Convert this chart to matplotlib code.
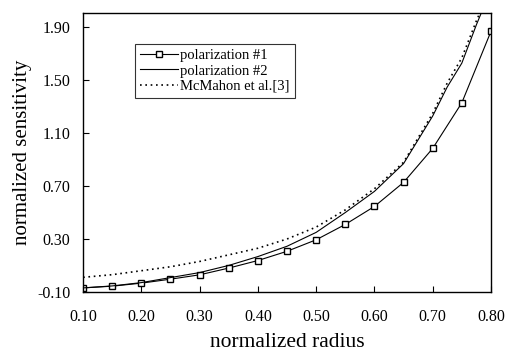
"""
Normalized sensitivity vs normalized radius
"""
import matplotlib
matplotlib.use("Agg")
import matplotlib.pyplot as plt

# polarization #1 (square markers)
r_pol1 = [0.10, 0.15, 0.20, 0.25, 0.30, 0.35, 0.40, 0.45, 0.50,
          0.55, 0.60, 0.65, 0.70, 0.75, 0.80]
s_pol1 = [-0.070, -0.057, -0.034, -0.004, 0.029, 0.080, 0.137, 0.207, 0.294,
          0.410, 0.546, 0.728, 0.985, 1.330, 1.870]

# polarization #2 (solid line)
r_pol2 = [0.10, 0.15, 0.20, 0.25, 0.30, 0.35, 0.40, 0.45, 0.50,
          0.55, 0.60, 0.65, 0.70, 0.725, 0.75, 0.775, 0.79]
s_pol2 = [-0.070, -0.055, -0.030, 0.008, 0.046, 0.100, 0.167, 0.245, 0.350,
          0.500, 0.660, 0.870, 1.230, 1.450, 1.630, 1.920, 2.080]

# McMahon et al. [3] (dotted)
r_mcm = [0.10, 0.15, 0.20, 0.25, 0.30, 0.35, 0.40, 0.45, 0.50,
         0.55, 0.60, 0.65, 0.70, 0.725, 0.75, 0.775, 0.79]
s_mcm = [0.010, 0.030, 0.060, 0.090, 0.130, 0.180, 0.230, 0.300, 0.390,
         0.520, 0.680, 0.880, 1.250, 1.480, 1.670, 1.950, 2.100]

x_ticks = [0.10, 0.20, 0.30, 0.40, 0.50, 0.60, 0.70, 0.80]
y_ticks = [-0.10, 0.30, 0.70, 1.10, 1.50, 1.90]

plt.rcParams["font.family"] = ["Liberation Serif", "DejaVu Serif"]

fig = plt.figure(figsize=(5.13, 3.59), dpi=100)
ax = fig.add_axes([0.162, 0.187, 0.795, 0.777])

ax.plot(r_pol1, s_pol1, color="black", linewidth=0.8, marker="s",
        markersize=4.5, markerfacecolor="white", markeredgewidth=1.0,
        label="polarization #1")
ax.plot(r_pol2, s_pol2, color="black", linewidth=0.8, label="polarization #2")
ax.plot(r_mcm, s_mcm, color="black", linewidth=1.2, linestyle=(0, (1, 2.2)),
        label="McMahon et al.[3]")

ax.set_xlim(0.10, 0.80)
ax.set_ylim(-0.10, 2.01)
ax.set_xticks(x_ticks)
ax.set_yticks(y_ticks)
ax.set_xticklabels([f"{v:.2f}" for v in x_ticks])
ax.set_yticklabels([f"{v:.2f}" for v in y_ticks])
ax.tick_params(direction="in", length=4, width=0.8, labelsize=11.5)
ax.tick_params(axis="x", pad=12)
ax.tick_params(axis="y", pad=9)
for sp in ax.spines.values():
    sp.set_linewidth(1.0)

ax.set_xlabel("normalized radius", fontsize=15.5, labelpad=6)
ax.set_ylabel("normalized sensitivity", fontsize=15, labelpad=4)

leg = ax.legend(loc="upper left", bbox_to_anchor=(0.1275, 0.889),
                fontsize=10.5, frameon=True, fancybox=False, handlelength=2.6,
                handletextpad=0.15, borderpad=0.35, labelspacing=0.15,
                borderaxespad=0)
leg.get_frame().set_edgecolor("black")
leg.get_frame().set_linewidth(0.8)

fig.savefig("out.png", dpi=100)
